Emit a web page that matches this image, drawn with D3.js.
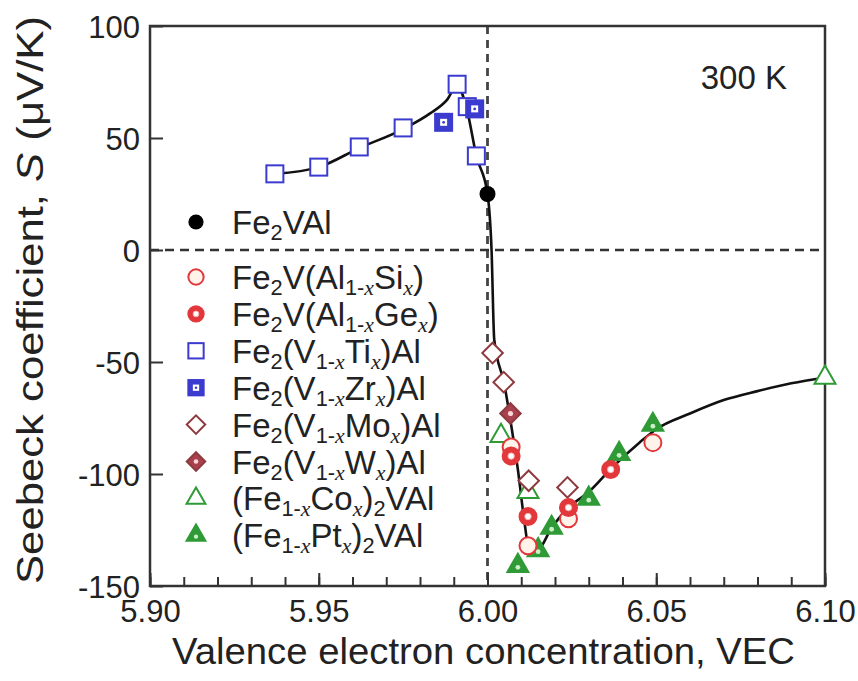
<!DOCTYPE html>
<html>
<head>
<meta charset="utf-8">
<script src="https://cdn.jsdelivr.net/npm/d3@7"></script>
<style>
body { margin: 0; background: #fff; }
svg { display: block; font-family: "Liberation Sans", Arial, sans-serif; }
</style>
</head>
<body>
<div id="chart"></div>
<script>
// values: [VEC, S (uV/K)]
var fe2valData = [[6.000, 25]];
var siData = [[6.007, -88], [6.012, -132], [6.024, -120], [6.049, -86]];
var geData = [[6.007, -92], [6.012, -119], [6.024, -115], [6.0365, -98]];
var tiData = [[5.937, 34], [5.950, 37], [5.962, 46], [5.975, 54.5], [5.991, 74], [5.994, 64], [5.9967, 42]];
var zrData = [[5.987, 57], [5.9962, 63]];
var moData = [[6.0015, -46], [6.0048, -59], [6.0122, -103], [6.0237, -106]];
var wData = [[6.0068, -73]];
var coData = [[6.004, -83], [6.012, -108], [6.100, -57]];
var ptData = [[6.009, -141], [6.015, -134], [6.019, -124], [6.030, -111], [6.039, -91], [6.049, -78]];

// guide line drawn through the data
var guideLine = [[5.937, 34], [5.950, 37], [5.962, 45.5], [5.975, 54], [5.983, 61], [5.988, 67], [5.991, 73.5],
  [5.994, 62], [5.9967, 42], [6.000, 25], [6.0012, 0], [6.002, -40], [6.005, -60], [6.007, -78], [6.009, -98],
  [6.011, -122], [6.0125, -135], [6.015, -134], [6.019, -124], [6.024, -115], [6.030, -108], [6.037, -97],
  [6.045, -86], [6.050, -80], [6.060, -73], [6.070, -67], [6.080, -63], [6.090, -59.5], [6.100, -57]];

var xTickValues = [5.90, 5.95, 6.00, 6.05, 6.10];
var yTickValues = [-150, -100, -50, 0, 50, 100];

var legendLabels = ["Fe_{2}V(Al_{1-x}Si_{x})", "Fe_{2}V(Al_{1-x}Ge_{x})", "Fe_{2}(V_{1-x}Ti_{x})Al",
  "Fe_{2}(V_{1-x}Zr_{x})Al", "Fe_{2}(V_{1-x}Mo_{x})Al", "Fe_{2}(V_{1-x}W_{x})Al",
  "(Fe_{1-x}Co_{x})_{2}VAl", "(Fe_{1-x}Pt_{x})_{2}VAl"];

var series = [
  {label: legendLabels[6], data: coData, mark: "triangle"},
  {label: legendLabels[7], data: ptData, mark: "triangleDot"},
  {label: legendLabels[4], data: moData, mark: "diamond"},
  {label: legendLabels[5], data: wData, mark: "diamondDot"},
  {label: legendLabels[2], data: tiData, mark: "square"},
  {label: legendLabels[3], data: zrData, mark: "squareDot"},
  {label: legendLabels[0], data: siData, mark: "circle"},
  {label: legendLabels[1], data: geData, mark: "circleDot"}
];

var blue = "#3b3bcf", red = "#e2383c", brown = "#8e3b40", wine = "#a8404e", green = "#2f9a36";

var svgWidth = 858, svgHeight = 681,
  margin = {top: 26, right: 33, bottom: 95, left: 150},
  width = svgWidth - margin.left - margin.right,
  height = svgHeight - margin.top - margin.bottom;

var svg = d3.select("#chart").append("svg")
  .attr("width", svgWidth)
  .attr("height", svgHeight)
  .append("g")
  .attr("transform", "translate(" + margin.left + "," + margin.top + ")");

var x = d3.scaleLinear().domain([5.90, 6.10]).range([0, width]);
var y = d3.scaleLinear().domain([-150, 100]).range([height, 0]);

// dashed reference lines
svg.append("line")
  .attr("x1", x(6.0)).attr("x2", x(6.0)).attr("y1", 0).attr("y2", height)
  .attr("stroke", "#444").attr("stroke-width", 2.8).attr("stroke-dasharray", "8,6");
svg.append("line")
  .attr("x1", 0).attr("x2", width).attr("y1", y(0)).attr("y2", y(0))
  .attr("stroke", "#333").attr("stroke-width", 2.5).attr("stroke-dasharray", "9,6");

// axes (ticks point inwards)
var xMinor = svg.append("g").attr("transform", "translate(0," + height + ")")
  .call(d3.axisBottom(x).ticks(20).tickSize(-9).tickFormat(""));
var xAxis = svg.append("g").attr("transform", "translate(0," + height + ")")
  .call(d3.axisBottom(x).tickValues(xTickValues).tickSize(-13).tickPadding(14).tickFormat(d3.format(".2f")));
var yAxis = svg.append("g")
  .call(d3.axisLeft(y).tickValues(yTickValues).tickSize(-13).tickPadding(10).tickFormat(function(d) {
    return d < 0 ? "-" + Math.abs(d) : d;
  }));

[xMinor, xAxis, yAxis].forEach(function(a) {
  a.select(".domain").remove();
  a.selectAll("line").attr("stroke", "#333").attr("stroke-width", 2);
  a.selectAll("text").attr("font-size", 31).attr("fill", "#222")
    .attr("font-family", "'Liberation Sans', Arial, sans-serif");
});
yAxis.selectAll("text").attr("dy", "0.36em");
xAxis.selectAll("text").attr("dy", "0.71em");

// frame
svg.append("rect")
  .attr("width", width).attr("height", height)
  .attr("fill", "none").attr("stroke", "#333").attr("stroke-width", 2.5);

// guide curve
svg.append("path")
  .datum(guideLine)
  .attr("fill", "none").attr("stroke", "#111").attr("stroke-width", 2.6)
  .attr("d", d3.line().x(function(d) { return x(d[0]); }).y(function(d) { return y(d[1]); })
    .curve(d3.curveMonotoneX));

function drawMark(g, mark, s) {
  s = s || 1;
  if (mark == "dot") {
    g.append("circle").attr("r", 8 * s).attr("fill", "#000");
  } else if (mark == "circle" || mark == "circleDot") {
    g.append("circle").attr("r", 8.5 * s)
      .attr("fill", mark == "circle" ? "#fff3ea" : red).attr("stroke", red).attr("stroke-width", 2);
    if (mark == "circleDot") g.append("circle").attr("r", 3.2 * s).attr("fill", "#fff").attr("stroke", "#f7b0b0");
  } else if (mark == "square" || mark == "squareDot") {
    var a = 17 * s;
    g.append("rect").attr("x", -a / 2).attr("y", -a / 2).attr("width", a).attr("height", a)
      .attr("fill", mark == "square" ? "#fff" : blue).attr("stroke", blue).attr("stroke-width", 2);
    if (mark == "squareDot") {
      g.append("rect").attr("x", -3.5 * s).attr("y", -3.5 * s).attr("width", 7 * s).attr("height", 7 * s)
        .attr("fill", "#fff");
      g.append("circle").attr("r", 1.4 * s).attr("fill", blue);
    }
  } else if (mark == "diamond" || mark == "diamondDot") {
    var b = 14.5 * s;
    g.append("rect").attr("x", -b / 2).attr("y", -b / 2).attr("width", b).attr("height", b)
      .attr("transform", "rotate(45)")
      .attr("fill", mark == "diamond" ? "#fff" : wine).attr("stroke", brown).attr("stroke-width", 2);
    if (mark == "diamondDot") g.append("circle").attr("r", 2.6 * s).attr("fill", "#fbd6d6");
  } else if (mark == "triangle" || mark == "triangleDot") {
    g.append("path").attr("d", d3.symbol().type(d3.symbolTriangle).size(190 * s * s)())
      .attr("fill", mark == "triangle" ? "#fff" : green).attr("stroke", green).attr("stroke-width", 2);
    if (mark == "triangleDot") g.append("circle").attr("cy", 1.5 * s).attr("r", 2.4 * s).attr("fill", "#c9f0c9");
  }
}

series.forEach(function(sr) {
  svg.append("g").selectAll("g")
    .data(sr.data)
    .enter().append("g")
    .attr("transform", function(d) { return "translate(" + x(d[0]) + "," + y(d[1]) + ")"; })
    .each(function() { drawMark(d3.select(this), sr.mark); });
});

svg.append("g").selectAll("g")
  .data(fe2valData)
  .enter().append("g")
  .attr("transform", function(d) { return "translate(" + x(d[0]) + "," + y(d[1]) + ")"; })
  .each(function() { drawMark(d3.select(this), "dot"); });

// text with subscripts written as _{..}; x inside a subscript is italic
function richText(t, str) {
  var parts = str.split(/(_\{[^}]*\})/);
  var inSub = false;
  parts.forEach(function(p) {
    if (!p) return;
    if (p.charAt(0) == "_") {
      var inner = p.slice(2, -1);
      inner.split(/(x)/).forEach(function(q) {
        if (!q) return;
        var ts = t.append("tspan").text(q).attr("font-size", "0.66em");
        if (q == "x") ts.attr("font-style", "italic").attr("font-family", "'Liberation Serif', serif");
        if (!inSub) { ts.attr("dy", 6); inSub = true; }
      });
    } else {
      var ts2 = t.append("tspan").text(p);
      if (inSub) { ts2.attr("dy", -6); inSub = false; }
    }
  });
}

// legend
var lx = 46, lt = 82, legendSize = 33;
var legend = svg.append("g").attr("class", "legend");
var l0 = legend.append("g").attr("transform", "translate(" + lx + "," + (222 - margin.top) + ")");
drawMark(l0.append("g"), "dot", 0.95);
richText(l0.append("text").attr("x", lt - lx).attr("y", 12).attr("font-size", legendSize).attr("fill", "#222"), "Fe_{2}VAl");

var legendOrder = ["circle", "circleDot", "square", "squareDot", "diamond", "diamondDot", "triangle", "triangleDot"];
legendLabels.forEach(function(lab, i) {
  var row = legend.append("g").attr("transform", "translate(" + lx + "," + (277 - margin.top + i * 36.9) + ")");
  drawMark(row.append("g"), legendOrder[i], 0.9);
  richText(row.append("text").attr("x", lt - lx).attr("y", 12).attr("font-size", legendSize).attr("fill", "#222"), lab);
});

// 300 K
svg.append("text")
  .attr("x", 637).attr("y", 89 - margin.top)
  .attr("text-anchor", "end").attr("font-size", 33).attr("fill", "#222")
  .text("300 K");

// axis titles
svg.append("text")
  .attr("x", (172 + 795) / 2 - margin.left).attr("y", 664 - margin.top)
  .attr("text-anchor", "middle").attr("font-size", 36).attr("fill", "#222")
  .attr("textLength", 623).attr("lengthAdjust", "spacingAndGlyphs")
  .text("Valence electron  concentration, VEC");

var yt = svg.append("text")
  .attr("transform", "translate(" + (43 - margin.left) + "," + (300 - margin.top) + ") rotate(-90)")
  .attr("text-anchor", "middle").attr("font-size", 36).attr("fill", "#222")
  .attr("textLength", 568).attr("lengthAdjust", "spacingAndGlyphs");
yt.append("tspan").text("Seebeck  coefficient, ");
yt.append("tspan").attr("font-style", "italic").text("S");
yt.append("tspan").text(" (\u03bcV/K)");
</script>
</body>
</html>
